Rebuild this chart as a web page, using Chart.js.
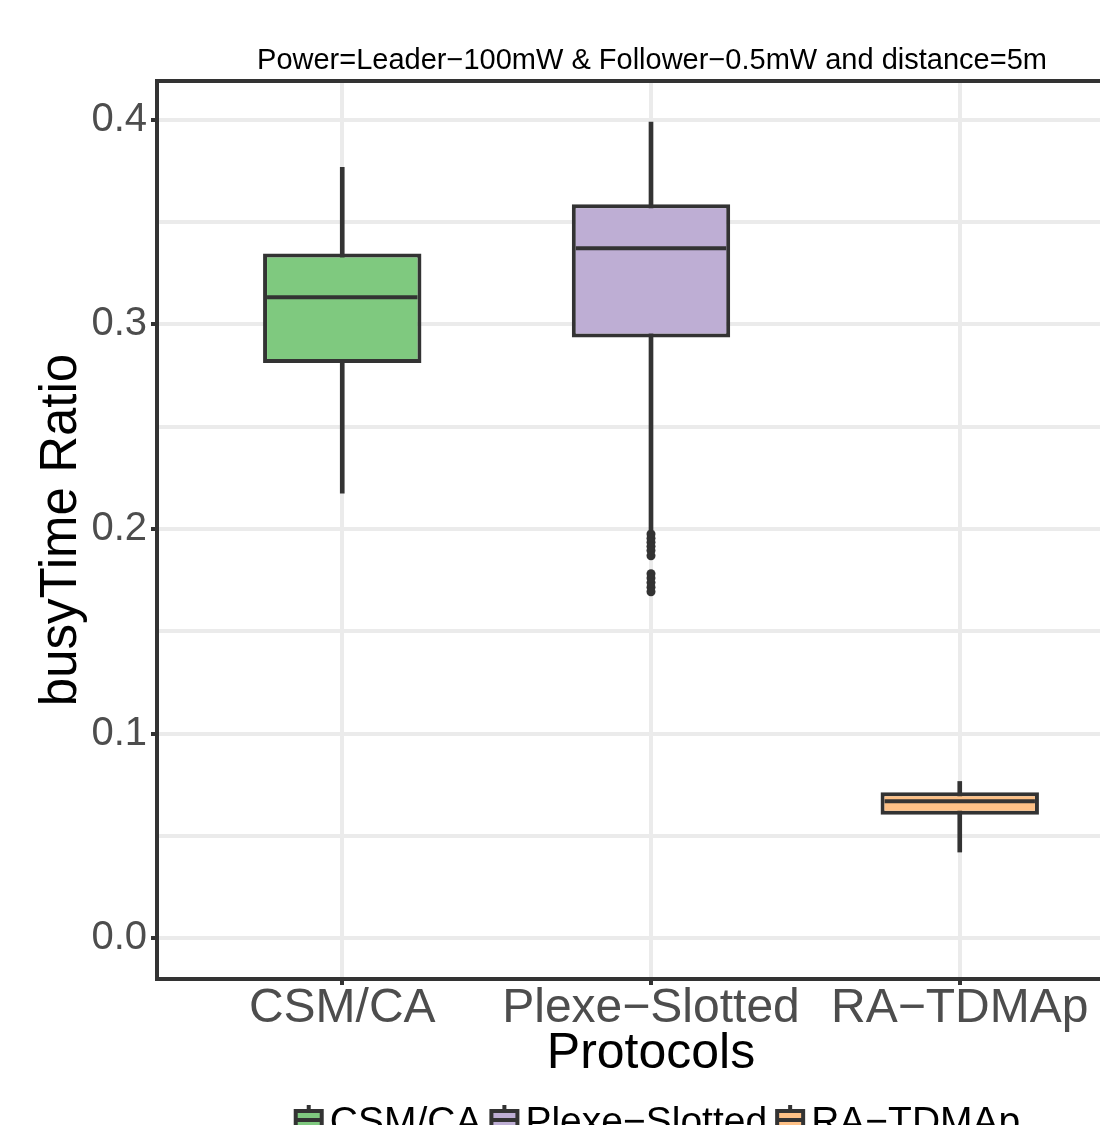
<!DOCTYPE html>
<html>
<head>
<meta charset="utf-8">
<script src="https://cdn.jsdelivr.net/npm/chart.js@4.4.1/dist/chart.umd.min.js"></script>
<style>
html,body{margin:0;padding:0;background:#ffffff;overflow:hidden;}
#wrap{width:1150px;height:1125px;}
</style>
</head>
<body>
<div id="wrap"><canvas id="c" width="1150" height="1125"></canvas></div>
<script>
// ---- data ----
const chartTitle = 'Power=Leader\u2212100mW & Follower\u22120.5mW and distance=5m';
const categories = ['CSM/CA', 'Plexe\u2212Slotted', 'RA\u2212TDMAp'];
const categoryPositions = [1, 2, 3];
const lowerWhisker = [0.2175, 0.1995, 0.0421];
const q1Values = [0.2811, 0.2936, 0.0603];
const medianValues = [0.3133, 0.3372, 0.0669];
const q3Values = [0.3347, 0.3587, 0.0713];
const upperWhisker = [0.3767, 0.3989, 0.0766];
const plexeOutliers = [0.1976, 0.1955, 0.1935, 0.1915, 0.1895, 0.1869, 0.1781, 0.1760, 0.1738, 0.1715, 0.1693];
const outlierCategory = 2;
const yMajorTicks = [0, 0.1, 0.2, 0.3, 0.4];
const yTickLabels = ['0.0', '0.1', '0.2', '0.3', '0.4'];
const yMinorTicks = [0.05, 0.15, 0.25, 0.35];
const boxColors = ['#7FC97F', '#BEAED4', '#FDC086'];
const xAxisTitle = 'Protocols';
const yAxisTitle = 'busyTime Ratio';

// ---- styling ----
const FONT = '"Liberation Sans", Arial, Helvetica, sans-serif';
const DARK = '#333333';
const GRID = '#EBEBEB';

const whiskerData = categoryPositions.map((x, i) => ({x: x, y: [lowerWhisker[i], upperWhisker[i]]}));
const boxData = categoryPositions.map((x, i) => ({x: x, y: [q1Values[i], q3Values[i]]}));
const medianData = categoryPositions.map((x, i) => ({x: x, y: medianValues[i]}));
const outlierData = plexeOutliers.map(v => ({x: outlierCategory, y: v}));

const isMajorY = v => yMajorTicks.some(t => Math.abs(t - v) < 1e-9);

const titlePlugin = {
  id: 'ggTitle',
  afterDraw(chart) {
    const {ctx, chartArea} = chart;
    ctx.save();
    ctx.font = '29px ' + FONT;
    ctx.fillStyle = '#000000';
    ctx.textAlign = 'center';
    ctx.textBaseline = 'alphabetic';
    ctx.fillText(chartTitle, (chartArea.left + chartArea.right) / 2 + 1, 69);
    ctx.restore();
  }
};

const borderPlugin = {
  id: 'panelBorder',
  afterDatasetsDraw(chart) {
    const {ctx, chartArea} = chart;
    ctx.save();
    ctx.strokeStyle = DARK;
    ctx.lineWidth = 4;
    ctx.strokeRect(chartArea.left, chartArea.top, chartArea.right - chartArea.left, chartArea.bottom - chartArea.top);
    ctx.restore();
  }
};

const legendPlugin = {
  id: 'ggLegend',
  afterDraw(chart) {
    const {ctx, chartArea} = chart;
    ctx.save();
    const fs = 39;
    ctx.font = fs + 'px ' + FONT;
    const keyW = 30, keyTextGap = 6, itemGap = 8;
    const widths = categories.map(c => ctx.measureText(c).width);
    let total = 0;
    widths.forEach((w, i) => { total += keyW + keyTextGap + w + (i < widths.length - 1 ? itemGap : 0); });
    const center = (chartArea.left + chartArea.right) / 2 + 6;
    let x = center - total / 2;
    const whiskTop = 1105, boxTop = 1109, boxBot = 1131, medY = 1120;
    categories.forEach((c, i) => {
      ctx.fillStyle = DARK;
      ctx.fillRect(x + keyW / 2 - 2, whiskTop, 4, boxTop - whiskTop + 2);
      ctx.fillStyle = boxColors[i];
      ctx.fillRect(x + 2, boxTop + 2, keyW - 4, boxBot - boxTop - 4);
      ctx.strokeStyle = DARK;
      ctx.lineWidth = 4;
      ctx.strokeRect(x + 2, boxTop + 2, keyW - 4, boxBot - boxTop - 4);
      ctx.beginPath();
      ctx.moveTo(x + 2, medY);
      ctx.lineTo(x + keyW - 2, medY);
      ctx.stroke();
      ctx.fillStyle = '#000000';
      ctx.textAlign = 'left';
      ctx.textBaseline = 'alphabetic';
      ctx.fillText(c, x + keyW + keyTextGap, 1106 + 0.716 * fs);
      x += keyW + keyTextGap + widths[i] + itemGap;
    });
    ctx.restore();
  }
};

const halfBox = ctx => {
  const xs = ctx.chart.scales.x;
  return Math.abs(xs.getPixelForValue(1.25) - xs.getPixelForValue(1)) - 2;
};

new Chart(document.getElementById('c'), {
  type: 'bar',
  data: {
    datasets: [
      {
        type: 'scatter',
        label: 'outliers',
        data: outlierData,
        order: 0,
        pointStyle: 'circle',
        pointRadius: 4.5,
        pointHoverRadius: 4.5,
        backgroundColor: DARK,
        borderWidth: 0
      },
      {
        type: 'scatter',
        label: 'median',
        data: medianData,
        order: 1,
        pointStyle: 'line',
        pointRadius: halfBox,
        pointHoverRadius: halfBox,
        borderColor: DARK,
        backgroundColor: DARK,
        borderWidth: 4
      },
      {
        type: 'bar',
        label: 'box',
        data: boxData,
        order: 2,
        grouped: false,
        backgroundColor: boxColors,
        borderColor: DARK,
        borderWidth: 4,
        borderSkipped: false,
        barPercentage: 0.513,
        categoryPercentage: 1
      },
      {
        type: 'bar',
        label: 'whisker',
        data: whiskerData,
        order: 3,
        grouped: false,
        backgroundColor: DARK,
        borderWidth: 0,
        barThickness: 4
      }
    ]
  },
  options: {
    responsive: false,
    animation: false,
    events: [],
    layout: {padding: {top: 81, right: 5, bottom: 46, left: 0}},
    plugins: {
      legend: {display: false},
      tooltip: {enabled: false},
      title: {display: false}
    },
    scales: {
      x: {
        type: 'linear',
        min: 0.4,
        max: 3.6,
        offset: false,
        afterBuildTicks(scale) { scale.ticks = categoryPositions.map(v => ({value: v})); },
        afterFit(scale) { scale.height = 100; },
        grid: {
          offset: false,
          color: GRID,
          lineWidth: 4,
          drawTicks: true,
          tickLength: 6,
          tickWidth: 4,
          tickColor: DARK
        },
        border: {display: false},
        ticks: {
          autoSkip: false,
          maxRotation: 0,
          minRotation: 0,
          padding: 0,
          color: '#4D4D4D',
          font: {family: FONT, size: 48, lineHeight: 1},
          callback: (v) => categories[categoryPositions.indexOf(v)] ?? ''
        },
        title: {
          display: true,
          text: xAxisTitle,
          color: '#000000',
          font: {family: FONT, size: 50, lineHeight: 1},
          padding: {top: 0, bottom: 0}
        }
      },
      y: {
        type: 'linear',
        min: -0.01995,
        max: 0.41895,
        afterBuildTicks(scale) {
          scale.ticks = yMajorTicks.concat(yMinorTicks).sort((a, b) => a - b).map(v => ({value: v}));
        },
        afterFit(scale) { scale.width = 157; },
        grid: {
          color: GRID,
          lineWidth: 4,
          drawTicks: true,
          tickLength: 6,
          tickWidth: 4,
          tickColor: (c) => (c.tick && isMajorY(c.tick.value)) ? DARK : 'rgba(0,0,0,0)'
        },
        border: {display: false},
        ticks: {
          autoSkip: false,
          padding: 4,
          color: '#4D4D4D',
          font: {family: FONT, size: 40, lineHeight: 1},
          callback: (v) => {
            const idx = yMajorTicks.findIndex(t => Math.abs(t - v) < 1e-9);
            return idx >= 0 ? yTickLabels[idx] : '';
          }
        },
        title: {
          display: true,
          text: yAxisTitle,
          color: '#000000',
          font: {family: FONT, size: 51, lineHeight: 1},
          padding: {top: 36, bottom: 0}
        }
      }
    }
  },
  plugins: [titlePlugin, borderPlugin, legendPlugin]
});
</script>
</body>
</html>
